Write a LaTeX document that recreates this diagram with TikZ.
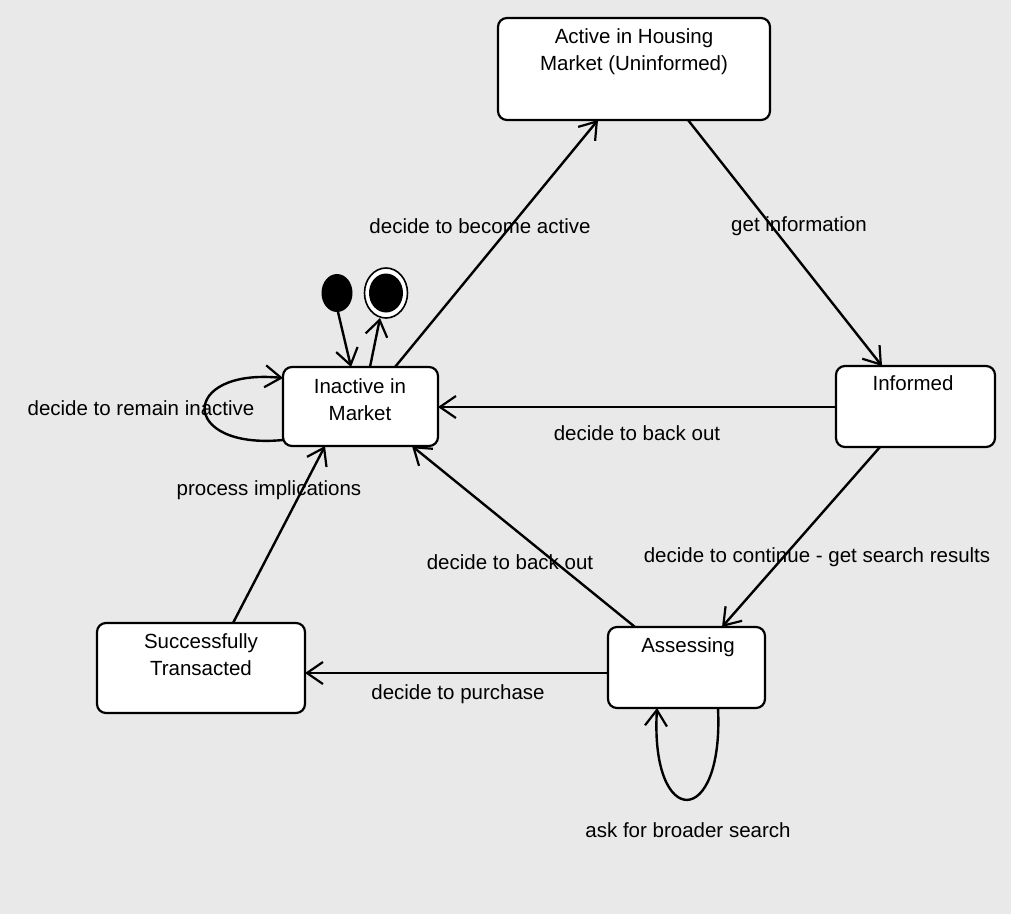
\documentclass[tikz,border=0pt]{standalone}
\usepackage{fontspec}
\setmainfont{Liberation Sans}
\usetikzlibrary{arrows.meta,shapes.geometric}
\begin{document}
\begin{tikzpicture}[x=1pt,y=-1pt,
  every node/.style={font=\fontsize{20.5}{27}\selectfont},
  statebox/.style={draw=black, line width=2.2pt, fill=white, rounded corners=9pt, inner sep=0pt},
  boxtext/.style={anchor=north, align=center, inner sep=0pt},
  trans/.style={draw=black, line width=2.4pt, -{Straight Barb[length=16pt,width=22pt,line width=2.2pt]}},
  lbl/.style={inner sep=0pt, fill=none}]
  \definecolor{paper}{RGB}{233,233,233}
  \fill[paper] (0,0) rectangle (1011,914);
  \useasboundingbox (0,0) rectangle (1011,914);

  % states
  \node[statebox, minimum width=272, minimum height=102] (active) at (634,69) {};
  \node[boxtext] (activet) at (634,28) {Active in Housing\\Market (Uninformed)};

  \node[statebox, minimum width=155, minimum height=79] (inactive) at (360.5,406.5) {};
  \node[boxtext] (inactivet) at (360,378) {Inactive in\\Market};

  \node[statebox, minimum width=159, minimum height=81] (informed) at (915.5,406.5) {};
  \node[boxtext] (informedt) at (913,375) {Informed};

  \node[statebox, minimum width=157, minimum height=81] (assess) at (686.5,667.5) {};
  \node[boxtext] (assesst) at (688,637) {Assessing};

  \node[statebox, minimum width=208, minimum height=90] (success) at (201,668) {};
  \node[boxtext] (successt) at (201,633) {Successfully\\Transacted};

  % initial and final pseudo-states
  \node[fill=black, ellipse, minimum width=31, minimum height=38, inner sep=0pt] (init) at (337,293) {};
  \node[draw=black, fill=white, line width=1.6pt, ellipse, minimum width=43, minimum height=50, inner sep=0pt] (final) at (386,293) {};
  \node[fill=black, ellipse, minimum width=34, minimum height=39, inner sep=0pt] (finalin) at (386,293) {};

  % anchor points on the box borders
  \coordinate (inTopA) at (351,367);
  \coordinate (inTopB) at (370,367);
  \coordinate (inTopC) at (395,367);
  \coordinate (inRight) at (438,407);
  \coordinate (inBotA) at (325,446);
  \coordinate (inBotB) at (412,446);
  \coordinate (inLeftLo) at (283,440);
  \coordinate (inLeftHi) at (283,378);
  \coordinate (acBotA) at (598,120);
  \coordinate (acBotB) at (688,120);
  \coordinate (infTop) at (882,366);
  \coordinate (infLeft) at (836,407);
  \coordinate (infBot) at (880,447);
  \coordinate (asTopA) at (722,627);
  \coordinate (asTopB) at (635,627);
  \coordinate (asLeft) at (608,673);
  \coordinate (asBotA) at (718,708);
  \coordinate (asBotB) at (657,708);
  \coordinate (sucRight) at (305,673);
  \coordinate (sucTop) at (233,623);
  \coordinate (initOut) at (338,312);
  \coordinate (finalIn) at (380,318);

  % transitions
  \draw[trans] (initOut) -- (inTopA);
  \draw[trans] (inTopB) -- (finalIn);
  \draw[trans] (inTopC) -- (acBotA);
  \draw[trans] (acBotB) -- (infTop);
  \draw[trans] (infLeft) -- (inRight);
  \draw[trans] (infBot) -- (asTopA);
  \draw[trans] (asTopB) -- (inBotB);
  \draw[trans] (asLeft) -- (sucRight);
  \draw[trans] (sucTop) -- (inBotA);
  \draw[trans] (inLeftLo) .. controls (179,450) and (179,368) .. (inLeftHi);
  \draw[trans] (asBotA) .. controls (724,830) and (650,830) .. (asBotB);

  % transition labels
  \node[lbl] (l1) at (480,226) {decide to become active};
  \node[lbl] (l2) at (799,226) {get information};
  \node[lbl] (l3) at (637,433) {decide to back out};
  \node[lbl] (l4) at (269,490) {process implications};
  \node[lbl] (l5) at (510,562) {decide to back out};
  \node[lbl] (l6) at (817,557) {decide to continue - get search results};
  \node[lbl] (l7) at (458,694) {decide to purchase};
  \node[lbl] (l8) at (688,830) {ask for broader search};
  \node[lbl] (l9) at (141,408) {decide to remain inactive};
\end{tikzpicture}
\end{document}
